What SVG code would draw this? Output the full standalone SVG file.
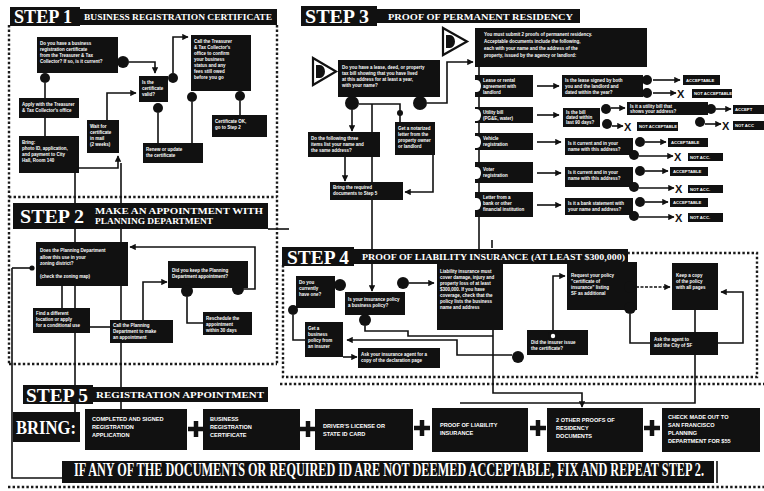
<svg xmlns="http://www.w3.org/2000/svg" width="764" height="491" viewBox="0 0 764 491">
<defs>
<marker id="ah" viewBox="0 0 10 10" refX="9" refY="5" markerWidth="4" markerHeight="4" orient="auto"><path d="M0,0 L10,5 L0,10 z" fill="#111"/></marker>
<style>
.bx{fill:#111}
.hd{fill:#111}
.ln{stroke:#111;stroke-width:1.6;fill:none}
.ar{stroke:#111;stroke-width:1.6;fill:none;marker-end:url(#ah)}
.dt{stroke:#1a1a1a;stroke-width:2.4;stroke-dasharray:2.4 2.2;fill:none}
.cr{fill:#111}
.st{font-family:"Liberation Serif",serif;font-weight:bold;fill:#fff;font-size:19px}
.sub{font-family:"Liberation Serif",serif;font-weight:bold;fill:#fff;font-size:8px}
.t{font-family:"Liberation Sans",Arial,sans-serif;font-weight:bold;fill:#fff;font-size:4.5px}
.bt{font-family:"Liberation Sans",Arial,sans-serif;font-weight:bold;fill:#fff;font-size:5.6px}
.lb{font-family:"Liberation Sans",Arial,sans-serif;font-weight:bold;fill:#fff;font-size:4.2px}
.x{font-family:"Liberation Sans",Arial,sans-serif;font-weight:bold;fill:#111;font-size:11px}
.pl{stroke:#111;stroke-width:4.5}
</style>
</defs>
<rect width="764" height="491" fill="#fff"/>

<!-- dotted section borders -->
<g id="borders">
<path class="dt" d="M9,25 V364 M9,197 H277 M277,25 V364 M9,364 H277"/>
<path class="dt" d="M283,265 V377 H757 V253 H628"/>
<path class="dt" d="M280,384 H764 M8,487 H764"/>
</g>

<!-- connectors -->
<g id="connectors">
<!-- step 1 -->
<path class="ar" d="M129,62 H155 V73"/>
<path class="ln" d="M45,83 V98"/>
<path class="ln" d="M45,118 V136"/>
<path class="ar" d="M79,168 H118 V156"/>
<path class="ar" d="M107,120 V93 H136"/>
<path class="ln" d="M158,113 V143"/>
<path class="ar" d="M173,73 V37 H188"/>
<path class="ln" d="M192,102 V147 H203"/>
<path class="ln" d="M240,101 V115"/>
<path class="ln" d="M75,173 V412"/>
<path class="ln" d="M121,163 V409"/>
<!-- step 2 -->
<path class="ln" d="M12,268 V478 H62"/>
<path class="ln" d="M12,268 H32"/>
<circle class="cr" cx="32" cy="268" r="2.6"/>
<path class="ln" d="M62,286 V308"/>
<path class="ln" d="M90,327 H110"/>
<path class="ar" d="M143,320 V282 H167"/>
<path class="ar" d="M244,289 H255 V247 H130"/>
<path class="ln" d="M187,297 V323 H203"/>
<path class="ln" d="M268,229 H289"/>
<!-- step 3 -->
<path class="ar" d="M352,110 V131"/>
<path class="ln" d="M359,104 H400 V122"/>
<path class="ln" d="M372,104 V182"/>
<path class="ar" d="M345,157 V181"/>
<path class="ar" d="M433,155 V192 H405"/>
<path class="ar" d="M427,103 H447 V62 H473"/>
<path class="ar" d="M372,200 V291"/>
<path class="ln" d="M479,67 V250"/>
<path class="ar" d="M537,86 H559"/>
<path class="ar" d="M537,115 H559"/>
<path class="ar" d="M537,142 H561"/>
<path class="ar" d="M537,173 H561"/>
<path class="ar" d="M537,205 H561"/>
<path class="ar" d="M653,80 H680"/>
<path class="ar" d="M653,93 H676"/>
<path class="ar" d="M611,108 H625"/>
<path class="ar" d="M716,109 H731"/>
<path class="ar" d="M705,124 H721"/>
<path class="ar" d="M612,126 H623"/>
<path class="ar" d="M645,142 H666"/>
<path class="ar" d="M639,156 H673"/>
<path class="ar" d="M645,171 H668"/>
<path class="ar" d="M639,188 H674"/>
<path class="ar" d="M645,202 H668"/>
<path class="ar" d="M639,217 H674"/>
<!-- step 4 -->
<path class="ar" d="M409,283 H434"/>
<path class="ln" d="M293,315 V340 H305"/>
<path class="ar" d="M343,357 H357"/>
<path class="ar" d="M512,355 H457 V340 H347"/>
<path class="ln" d="M365,326 V331 H408 V336 H493"/>
<path class="ar" d="M493,330 V393 H582 V407"/>
<path class="ar" d="M553,331 V276 H565"/>
<path class="ar" d="M636,287 H670" stroke-dasharray="3 1.5"/>
<path class="ln" d="M630,314 V343 H650"/>
<path class="ar" d="M718,343 H743 V292 H721"/>
<path class="ln" d="M695,310 V403 H460"/>
<path class="ln" d="M492,240 V248"/>
</g>

<!-- STEP 1 -->
<g id="step1-header">
<rect class="hd" x="10" y="7" width="70" height="19"/>
<rect class="hd" x="78" y="9" width="199" height="16"/>
<text class="st" x="14" y="23" textLength="58" lengthAdjust="spacingAndGlyphs">STEP 1</text>
<text class="sub" x="84" y="20" textLength="188" lengthAdjust="spacingAndGlyphs">BUSINESS REGISTRATION CERTIFICATE</text>
</g>
<g id="s1a"><rect class="bx" x="37" y="37" width="81" height="36"/>
<text class="t"><tspan x="40" y="45">Do you have a business</tspan><tspan x="40" y="51">registration certificate</tspan><tspan x="40" y="57">from the Treasurer &amp; Tax</tspan><tspan x="40" y="63">Collector? If so, is it current?</tspan></text>
<circle class="cr" cx="123" cy="62" r="6"/><circle class="cr" cx="45" cy="78" r="5"/></g>
<g id="s1b"><rect class="bx" x="19" y="98" width="60" height="20"/>
<text class="t"><tspan x="22" y="106">Apply with the Treasurer</tspan><tspan x="22" y="112">&amp; Tax Collector's office</tspan></text></g>
<g id="s1c"><rect class="bx" x="19" y="136" width="60" height="37"/>
<text class="t"><tspan x="22" y="144">Bring:</tspan><tspan x="22" y="150">photo ID, application,</tspan><tspan x="22" y="156">and payment to City</tspan><tspan x="22" y="162">Hall, Room 140</tspan></text></g>
<g id="s1d"><rect class="bx" x="87" y="120" width="32" height="33"/>
<text class="t"><tspan x="90" y="128">Wait for</tspan><tspan x="90" y="134">certificate</tspan><tspan x="90" y="140">in mail</tspan><tspan x="90" y="146">(2 weeks)</tspan></text></g>
<g id="s1e"><rect class="bx" x="139" y="76" width="29" height="26"/>
<text class="t"><tspan x="142" y="84">Is the</tspan><tspan x="142" y="90">certificate</tspan><tspan x="142" y="96">valid?</tspan></text>
<circle class="cr" cx="158" cy="108" r="5"/><circle class="cr" cx="173" cy="78" r="5"/></g>
<g id="s1f"><rect class="bx" x="191" y="35" width="60" height="56"/>
<text class="t"><tspan x="194" y="43">Call the Treasurer</tspan><tspan x="194" y="49">&amp; Tax Collector's</tspan><tspan x="194" y="55">office to confirm</tspan><tspan x="194" y="61">your business</tspan><tspan x="194" y="67">status and any</tspan><tspan x="194" y="73">fees still owed</tspan><tspan x="194" y="79">before you go</tspan></text>
<circle class="cr" cx="192" cy="97" r="5"/><circle class="cr" cx="240" cy="96" r="5"/></g>
<g id="s1g"><rect class="bx" x="143" y="143" width="60" height="20"/>
<text class="t"><tspan x="146" y="151">Renew or update</tspan><tspan x="146" y="157">the certificate</tspan></text></g>
<g id="s1h"><rect class="bx" x="212" y="115" width="55" height="22"/>
<text class="t"><tspan x="215" y="123">Certificate OK,</tspan><tspan x="215" y="129">go to Step 2</tspan></text></g>

<!-- STEP 2 -->
<g id="step2-header">
<rect class="hd" x="13" y="203" width="255" height="26"/>
<text class="st" x="20" y="223" textLength="64" lengthAdjust="spacingAndGlyphs">STEP 2</text>
<text class="sub" x="95" y="214" textLength="168" lengthAdjust="spacingAndGlyphs">MAKE AN APPOINTMENT WITH</text>
<text class="sub" x="95" y="224" textLength="118" lengthAdjust="spacingAndGlyphs">PLANNING DEPARTMENT</text>
</g>
<g id="s2a"><rect class="bx" x="36" y="242" width="92" height="44"/>
<text class="t"><tspan x="40" y="252">Does the Planning Department</tspan><tspan x="40" y="259">allow this use in your</tspan><tspan x="40" y="265">zoning district?</tspan><tspan x="40" y="278">(check the zoning map)</tspan></text></g>
<g id="s2b"><rect class="bx" x="33" y="308" width="57" height="25"/>
<text class="t"><tspan x="36" y="315">Find a different</tspan><tspan x="36" y="321">location or apply</tspan><tspan x="36" y="327">for a conditional use</tspan></text></g>
<g id="s2c"><rect class="bx" x="110" y="320" width="63" height="23"/>
<text class="t"><tspan x="113" y="327">Call the Planning</tspan><tspan x="113" y="333">Department to make</tspan><tspan x="113" y="339">an appointment</tspan></text></g>
<g id="s2d"><rect class="bx" x="168" y="261" width="80" height="27"/>
<text class="t"><tspan x="172" y="272">Did you keep the Planning</tspan><tspan x="172" y="278">Department appointment?</tspan></text>
<circle class="cr" cx="187" cy="291" r="6"/><circle class="cr" cx="238" cy="289" r="6"/></g>
<g id="s2e"><rect class="bx" x="203" y="312" width="49" height="23"/>
<text class="t"><tspan x="206" y="320">Reschedule the</tspan><tspan x="206" y="326">appointment</tspan><tspan x="206" y="332">within 30 days</tspan></text></g>

<!-- STEP 3 -->
<g id="step3-header">
<rect class="hd" x="301" y="6" width="76" height="20"/>
<rect class="hd" x="375" y="9" width="205" height="14"/>
<text class="st" x="305" y="22.5" textLength="64" lengthAdjust="spacingAndGlyphs">STEP 3</text>
<text class="sub" x="388" y="19.5" textLength="185" lengthAdjust="spacingAndGlyphs">PROOF OF PERMANENT RESIDENCY</text>
</g>
<g id="tri1"><polygon points="313,58 336,71.5 313,85" fill="#fff" stroke="#111" stroke-width="2.2"/><path d="M316,65 h4 a5,6.5 0 0 1 0,13 h-4 z" fill="#111"/></g>
<g id="tri2"><polygon points="443,28 467,41.5 443,55" fill="#fff" stroke="#111" stroke-width="2.2"/><path d="M446,35 h4 a5,6.5 0 0 1 0,13 h-4 z" fill="#111"/></g>
<g id="s3a"><rect class="bx" x="338" y="60" width="102" height="37"/>
<text class="t"><tspan x="342" y="69">Do you have a lease, deed, or property</tspan><tspan x="342" y="75">tax bill showing that you have lived</tspan><tspan x="342" y="81">at this address for at least a year,</tspan><tspan x="342" y="87">with your name?</tspan></text>
<circle class="cr" cx="352" cy="103" r="7"/><circle class="cr" cx="420" cy="103" r="7"/><circle class="cr" cx="400" cy="113" r="3"/></g>
<g id="s3b"><rect class="bx" x="475" y="28" width="172" height="39"/>
<text class="t"><tspan x="484" y="36">You must submit 2 proofs of permanent residency.</tspan><tspan x="484" y="43">Acceptable documents include the following,</tspan><tspan x="484" y="50">each with your name and the address of the</tspan><tspan x="484" y="57">property, issued by the agency or landlord:</tspan></text></g>
<g id="s3c"><rect class="bx" x="308" y="132" width="72" height="25"/>
<text class="t"><tspan x="311" y="140">Do the following three</tspan><tspan x="311" y="146">items list your name and</tspan><tspan x="311" y="152">the same address?</tspan></text></g>
<g id="s3d"><rect class="bx" x="395" y="122" width="40" height="33"/>
<text class="t"><tspan x="398" y="130">Get a notarized</tspan><tspan x="398" y="136">letter from the</tspan><tspan x="398" y="142">property owner</tspan><tspan x="398" y="148">or landlord</tspan></text></g>
<g id="s3e"><rect class="bx" x="330" y="182" width="73" height="18"/>
<text class="t"><tspan x="333" y="189">Bring the required</tspan><tspan x="333" y="195">documents to Step 5</tspan></text></g>

<g id="i1"><rect class="bx" x="475" y="75" width="58" height="22"/><path d="M475,80 h2 a4,6 0 0 1 0,12 h-2 z" fill="#fff"/>
<text class="t"><tspan x="483" y="82">Lease or rental</tspan><tspan x="483" y="88">agreement with</tspan><tspan x="483" y="94">landlord</tspan></text></g>
<g id="i2"><rect class="bx" x="475" y="107" width="58" height="16"/><path d="M475,109 h2 a4,6 0 0 1 0,12 h-2 z" fill="#fff"/>
<text class="t"><tspan x="483" y="114">Utility bill</tspan><tspan x="483" y="120">(PG&amp;E, water)</tspan></text></g>
<g id="i3"><rect class="bx" x="475" y="133" width="58" height="17"/><path d="M475,136 h2 a4,6 0 0 1 0,12 h-2 z" fill="#fff"/>
<text class="t"><tspan x="483" y="140">Vehicle</tspan><tspan x="483" y="146">registration</tspan></text></g>
<g id="i4"><rect class="bx" x="475" y="162" width="58" height="21"/><path d="M475,167 h2 a4,6 0 0 1 0,12 h-2 z" fill="#fff"/>
<text class="t"><tspan x="483" y="171">Voter</tspan><tspan x="483" y="177">registration</tspan></text></g>
<g id="i5"><rect class="bx" x="475" y="192" width="58" height="25"/><path d="M475,198 h2 a4,6 0 0 1 0,12 h-2 z" fill="#fff"/>
<text class="t"><tspan x="483" y="199">Letter from a</tspan><tspan x="483" y="205">bank or other</tspan><tspan x="483" y="211">financial institution</tspan></text></g>

<g id="r1"><rect class="bx" x="562" y="75" width="81" height="22"/>
<text class="t"><tspan x="565" y="82">Is the lease signed by both</tspan><tspan x="565" y="88">you and the landlord and</tspan><tspan x="565" y="94">dated within the year?</tspan></text>
<circle class="cr" cx="647" cy="80" r="5"/><circle class="cr" cx="647" cy="93" r="5"/>
<rect class="bx" x="683" y="75" width="37" height="10"/><text class="lb" x="686" y="81.5">ACCEPTABLE</text>
<text class="x" x="677" y="98">X</text>
<rect class="bx" x="692" y="89" width="40" height="9"/><text class="lb" x="694" y="95">NOT ACCEPTABLE</text></g>
<g id="r2"><rect class="bx" x="563" y="108" width="37" height="19"/>
<text class="t"><tspan x="566" y="114">Is the bill</tspan><tspan x="566" y="119">dated within</tspan><tspan x="566" y="124">last 90 days?</tspan></text>
<circle class="cr" cx="606" cy="109" r="5"/><circle class="cr" cx="607" cy="124" r="5"/>
<rect class="bx" x="627" y="102" width="81" height="13"/><text class="t"><tspan x="630" y="107.5">Is it a utility bill that</tspan><tspan x="630" y="112.5">shows your address?</tspan></text>
<circle class="cr" cx="711" cy="109" r="5"/><circle class="cr" cx="700" cy="122" r="5"/>
<rect class="bx" x="733" y="105" width="31" height="9"/><text class="lb" x="735" y="111">ACCEPT</text>
<text class="x" x="722" y="130">X</text>
<rect class="bx" x="733" y="121" width="31" height="9"/><text class="lb" x="735" y="127">NOT ACC</text>
<text class="x" x="624" y="131">X</text>
<rect class="bx" x="637" y="122" width="41" height="9"/><text class="lb" x="639" y="128">NOT ACCEPTABLE</text></g>
<g id="r3"><rect class="bx" x="565" y="138" width="68" height="17"/>
<text class="t"><tspan x="568" y="145">Is it current and in your</tspan><tspan x="568" y="151">name with this address?</tspan></text>
<circle class="cr" cx="640" cy="142" r="5"/><circle class="cr" cx="634" cy="155" r="5"/>
<rect class="bx" x="668" y="138" width="40" height="9"/><text class="lb" x="671" y="144">ACCEPTABLE</text>
<text class="x" x="674" y="161">X</text>
<rect class="bx" x="688" y="153" width="35" height="8"/><text class="lb" x="690" y="158.5">NOT ACC.</text></g>
<g id="r4"><rect class="bx" x="565" y="167" width="68" height="20"/>
<text class="t"><tspan x="568" y="174">Is it current and in your</tspan><tspan x="568" y="180">name with this address?</tspan></text>
<circle class="cr" cx="640" cy="171" r="5"/><circle class="cr" cx="634" cy="187" r="5"/>
<rect class="bx" x="670" y="167" width="38" height="9"/><text class="lb" x="673" y="173">ACCEPTABLE</text>
<text class="x" x="675" y="193">X</text>
<rect class="bx" x="688" y="185" width="35" height="8"/><text class="lb" x="690" y="190.5">NOT ACC.</text></g>
<g id="r5"><rect class="bx" x="565" y="198" width="68" height="17"/>
<text class="t"><tspan x="568" y="205">Is it a bank statement with</tspan><tspan x="568" y="211">your name and address?</tspan></text>
<circle class="cr" cx="640" cy="202" r="5"/><circle class="cr" cx="634" cy="216" r="5"/>
<rect class="bx" x="670" y="198" width="38" height="9"/><text class="lb" x="673" y="204">ACCEPTABLE</text>
<text class="x" x="675" y="222">X</text>
<rect class="bx" x="688" y="213" width="35" height="9"/><text class="lb" x="690" y="219">NOT ACC.</text></g>

<!-- STEP 4 -->
<g id="step4-header">
<rect class="hd" x="282" y="247" width="72" height="19"/>
<rect class="hd" x="352" y="249" width="276" height="15"/>
<text class="st" x="287" y="264" textLength="62" lengthAdjust="spacingAndGlyphs">STEP 4</text>
<text class="sub" x="362" y="260" textLength="263" lengthAdjust="spacingAndGlyphs">PROOF OF LIABILITY INSURANCE (AT LEAST $300,000)</text>
</g>
<g id="s4a"><rect class="bx" x="296" y="276" width="39" height="32"/>
<text class="t"><tspan x="299" y="284">Do you</tspan><tspan x="299" y="290">currently</tspan><tspan x="299" y="296">have one?</tspan></text>
<circle class="cr" cx="340" cy="285" r="6"/><circle class="cr" cx="293" cy="310" r="5"/></g>
<g id="s4b"><rect class="bx" x="345" y="292" width="60" height="23"/>
<text class="t"><tspan x="348" y="301">Is your insurance policy</tspan><tspan x="348" y="307">a business policy?</tspan></text>
<circle class="cr" cx="403" cy="283" r="6"/><circle class="cr" cx="365" cy="320" r="6"/></g>
<g id="s4c"><rect class="bx" x="305" y="322" width="38" height="35"/>
<text class="t"><tspan x="308" y="330">Get a</tspan><tspan x="308" y="336">business</tspan><tspan x="308" y="342">policy from</tspan><tspan x="308" y="348">an insurer</tspan></text></g>
<g id="s4d"><rect class="bx" x="437" y="263" width="66" height="67"/>
<text class="t"><tspan x="440" y="273">Liability insurance must</tspan><tspan x="440" y="279">cover damage, injury and</tspan><tspan x="440" y="285">property loss of at least</tspan><tspan x="440" y="291">$300,000. If you have</tspan><tspan x="440" y="297">coverage, check that the</tspan><tspan x="440" y="303">policy lists the business</tspan><tspan x="440" y="309">name and address</tspan></text></g>
<g id="s4e"><rect class="bx" x="358" y="348" width="82" height="20"/>
<text class="t"><tspan x="361" y="356">Ask your insurance agent for a</tspan><tspan x="361" y="362">copy of the declaration page</tspan></text></g>
<g id="s4f"><rect class="bx" x="527" y="330" width="61" height="25"/>
<text class="t"><tspan x="531" y="344">Did the insurer issue</tspan><tspan x="531" y="350">the certificate?</tspan></text>
<circle class="cr" cx="553" cy="336" r="5"/><circle cx="553" cy="336" r="2.2" fill="#fff"/><circle class="cr" cx="518" cy="357" r="6"/></g>
<g id="s4g"><rect class="bx" x="567" y="262" width="70" height="48"/>
<text class="t"><tspan x="571" y="277">Request your policy</tspan><tspan x="571" y="283">"certificate of</tspan><tspan x="571" y="289">insurance" listing</tspan><tspan x="571" y="295">SF as additional</tspan></text>
<circle class="cr" cx="630" cy="287" r="6"/><circle class="cr" cx="630" cy="308" r="6"/></g>
<g id="s4h"><rect class="bx" x="672" y="263" width="46" height="47"/>
<text class="t"><tspan x="676" y="277">Keep a copy</tspan><tspan x="676" y="283">of the policy</tspan><tspan x="676" y="289">with all pages</tspan></text></g>
<g id="s4i"><rect class="bx" x="650" y="332" width="68" height="23"/>
<text class="t"><tspan x="654" y="341">Ask the agent to</tspan><tspan x="654" y="347">add the City of SF</tspan></text></g>

<!-- STEP 5 -->
<g id="step5-header">
<rect class="hd" x="23" y="385" width="70" height="19"/>
<rect class="hd" x="91" y="387" width="177" height="15"/>
<text class="st" x="26" y="402" textLength="62" lengthAdjust="spacingAndGlyphs">STEP 5</text>
<text class="sub" x="96" y="398" textLength="168" lengthAdjust="spacingAndGlyphs">REGISTRATION APPOINTMENT</text>
</g>
<g id="bring"><rect class="bx" x="13" y="412" width="67" height="30"/>
<text class="st" x="16" y="434" font-size="17" textLength="60" lengthAdjust="spacingAndGlyphs">BRING:</text></g>
<g id="b1"><rect class="bx" x="85" y="409" width="102" height="41"/>
<text class="bt"><tspan x="92" y="421">COMPLETED AND SIGNED</tspan><tspan x="92" y="429">REGISTRATION</tspan><tspan x="92" y="437">APPLICATION</tspan></text></g>
<g id="b2"><rect class="bx" x="203" y="409" width="97" height="41"/>
<text class="bt"><tspan x="210" y="421">BUSINESS</tspan><tspan x="210" y="429">REGISTRATION</tspan><tspan x="210" y="437">CERTIFICATE</tspan></text></g>
<g id="b3"><rect class="bx" x="315" y="409" width="98" height="41"/>
<text class="bt"><tspan x="323" y="428">DRIVER'S LICENSE OR</tspan><tspan x="323" y="436">STATE ID CARD</tspan></text></g>
<g id="b4"><rect class="bx" x="432" y="408" width="96" height="44"/>
<text class="bt"><tspan x="440" y="427">PROOF OF LIABILITY</tspan><tspan x="440" y="435">INSURANCE</tspan></text></g>
<g id="b5"><rect class="bx" x="547" y="408" width="96" height="44"/>
<text class="bt"><tspan x="556" y="422">2 OTHER PROOFS OF</tspan><tspan x="556" y="430">RESIDENCY</tspan><tspan x="556" y="438">DOCUMENTS</tspan></text></g>
<g id="b6"><rect class="bx" x="662" y="408" width="98" height="44"/>
<text class="bt"><tspan x="668" y="419">CHECK MADE OUT TO</tspan><tspan x="668" y="427">SAN FRANCISCO</tspan><tspan x="668" y="435">PLANNING</tspan><tspan x="668" y="443">DEPARTMENT FOR $55</tspan></text></g>
<g id="plus">
<path class="pl" d="M196,421 V437 M188,429 H204"/>
<path class="pl" d="M308,421 V437 M300,429 H316"/>
<path class="pl" d="M422,420 V436 M414,428 H430"/>
<path class="pl" d="M538,420 V436 M530,428 H546"/>
<path class="pl" d="M652,420 V436 M644,428 H660"/>
</g>
<g id="banner"><rect class="bx" x="62" y="461" width="652" height="22"/>
<text class="st" x="74" y="476" font-size="13" textLength="630" lengthAdjust="spacingAndGlyphs">IF ANY OF THE DOCUMENTS OR REQUIRED ID ARE NOT DEEMED ACCEPTABLE, FIX AND REPEAT STEP 2.</text>
<path class="ln" d="M717,461 V483" stroke-width="1"/></g>
</svg>
